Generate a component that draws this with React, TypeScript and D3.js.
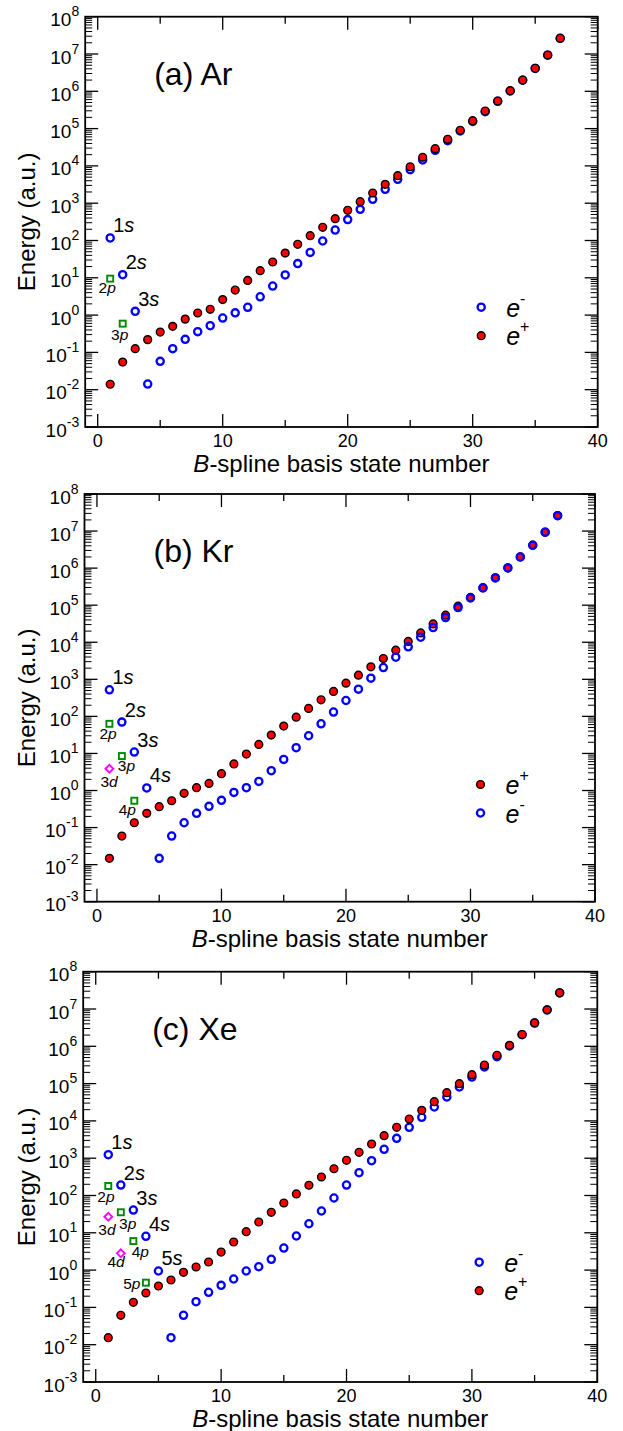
import React from "react";
import * as d3 from "d3";

// B-spline basis state numbers 1..37
const stateNumber = d3.range(1, 38);

// (a) Ar
const arElectron = [
  117, 12.1, 1.26, 0.0142, 0.0575, 0.126, 0.224, 0.36, 0.52, 0.835, 1.15, 1.62, 3.1, 6.0, 11.9, 24, 48, 97, 191,
  363, 685, 1270, 2350, 4370, 7940, 14400, 26200, 47400, 86300, 155000, 285000, 540000, 1.02e6, 1.98e6, 4.1e6,
  9.3e6, 2.63e7,
];
const arPositron = [
  0.014, 0.055, 0.126, 0.22, 0.35, 0.5, 0.78, 1.14, 1.43, 2.6, 4.7, 8.5, 15.5, 26.5, 46, 79, 135, 226, 385, 645,
  1100, 1875, 3200, 5460, 9500, 17000, 28900, 51600, 90000, 163000, 296000, 550000, 1.04e6, 2.0e6, 4.14e6, 9.4e6,
  2.64e7,
];
const arSNames = ["1s", "2s", "3s"];
const arPStates = [
  { n: 1, energy: 9.5, name: "2p" },
  { n: 2, energy: 0.59, name: "3p" },
];
const arDStates: { n: number; energy: number; name: string }[] = [];

// (b) Kr
const krElectron = [
  521, 70, 10.9, 1.17, 0.0148, 0.059, 0.135, 0.242, 0.374, 0.542, 0.89, 1.19, 1.76, 3.42, 6.9, 14.3, 30, 63, 131,
  268, 543, 1075, 2080, 3950, 7520, 13700, 24900, 46400, 86300, 157000, 292000, 545000, 1.01e6, 2.0e6, 4.14e6,
  9.3e6, 2.6e7,
];
const krPositron = [
  0.0148, 0.059, 0.135, 0.242, 0.366, 0.53, 0.84, 1.19, 1.55, 2.84, 5.2, 9.6, 17.5, 31.3, 54.7, 95, 164, 280, 470,
  789, 1295, 2170, 3650, 6110, 10500, 17900, 31300, 53700, 93800, 162000, 296000, 550000, 1.02e6, 2.0e6, 4.15e6,
  9.35e6, 2.62e7,
];
const krSNames = ["1s", "2s", "3s", "4s"];
const krPStates = [
  { n: 1, energy: 63, name: "2p" },
  { n: 2, energy: 8.5, name: "3p" },
  { n: 3, energy: 0.53, name: "4p" },
];
const krDStates = [{ n: 1, energy: 3.87, name: "3d" }];

// (c) Xe
const xeElectron = [
  1240, 191, 40.8, 8.05, 0.946, 0.0154, 0.0614, 0.142, 0.254, 0.39, 0.577, 0.946, 1.23, 1.95, 3.9, 8.2, 17.5, 38.4,
  85.7, 191, 408, 857, 1730, 3410, 6730, 12500, 23600, 43700, 81100, 150000, 279000, 526000, 1.02e6, 2.05e6,
  4.2e6, 9.4e6, 2.7e7,
];
const xePositron = [
  0.0154, 0.0614, 0.137, 0.243, 0.375, 0.543, 0.873, 1.21, 1.65, 3.05, 5.66, 10.7, 19.5, 35.5, 63, 110, 188, 313,
  522, 879, 1440, 2400, 4010, 6730, 11200, 19200, 32700, 57000, 99300, 173000, 315000, 574000, 1.06e6, 2.07e6,
  4.25e6, 9.5e6, 2.72e7,
];
const xeSNames = ["1s", "2s", "3s", "4s", "5s"];
const xePStates = [
  { n: 1, energy: 180, name: "2p" },
  { n: 2, energy: 35.5, name: "3p" },
  { n: 3, energy: 6.0, name: "4p" },
  { n: 4, energy: 0.46, name: "5p" },
];
const xeDStates = [
  { n: 1, energy: 27, name: "3d" },
  { n: 2, energy: 2.82, name: "4d" },
];

const xMajorTicks = [0, 10, 20, 30, 40];
const xMinorTicks = [5, 15, 25, 35];
const yExponents = d3.range(-3, 9);

const FONT = "'Liberation Sans', Arial, Helvetica, sans-serif";
const BLUE = "#0000ff";
const RED = "#ff0000";
const GREEN = "#008800";
const MAGENTA = "#ff00ff";

type State = { n: number; energy: number; name: string };

type PanelProps = {
  top: number;
  bottom: number;
  left: number;
  right: number;
  title: string;
  electron: number[];
  positron: number[];
  sNames: string[];
  pStates: State[];
  dStates: State[];
  electronOnTop: boolean;
  positronFirstInLegend: boolean;
  nudges: Record<string, [number, number]>;
};

const Panel = (p: PanelProps) => {
  const x = d3.scaleLinear().domain([-1, 40]).range([p.left, p.right]);
  const y = d3.scaleLog().domain([1e-3, 1e8]).range([p.bottom, p.top]);

  const minorY: number[] = [];
  for (let k = -3; k < 8; k++) for (let m = 2; m <= 9; m++) minorY.push(m * Math.pow(10, k));

  const majLen = 13;
  const minLen = 7;

  const electronMarks = p.electron.map((v, i) => (
    <circle key={"e" + i} cx={x(stateNumber[i])} cy={y(v)} r={3.6} fill="none" stroke={BLUE} strokeWidth={2.3} />
  ));
  const positronMarks = p.positron.map((v, i) => (
    <circle key={"p" + i} cx={x(stateNumber[i])} cy={y(v)} r={3.9} fill={RED} stroke="#000" strokeWidth={1.4} />
  ));

  const legendRows = p.positronFirstInLegend ? ["+", "-"] : ["-", "+"];
  const lx = p.left + 396;

  return (
    <g fontFamily={FONT}>
      {/* ticks */}
      <g stroke="#000" strokeWidth={1.3}>
        {xMajorTicks.map((t) => (
          <g key={"xM" + t}>
            <line x1={x(t)} x2={x(t)} y1={p.bottom} y2={p.bottom - majLen} />
            <line x1={x(t)} x2={x(t)} y1={p.top} y2={p.top + majLen} />
          </g>
        ))}
        {xMinorTicks.map((t) => (
          <g key={"xm" + t}>
            <line x1={x(t)} x2={x(t)} y1={p.bottom} y2={p.bottom - minLen} />
            <line x1={x(t)} x2={x(t)} y1={p.top} y2={p.top + minLen} />
          </g>
        ))}
        {yExponents.map((k) => (
          <g key={"yM" + k}>
            <line x1={p.left} x2={p.left + majLen} y1={y(Math.pow(10, k))} y2={y(Math.pow(10, k))} />
            <line x1={p.right} x2={p.right - majLen} y1={y(Math.pow(10, k))} y2={y(Math.pow(10, k))} />
          </g>
        ))}
        {minorY.map((v, i) => (
          <g key={"ym" + i} strokeWidth={1}>
            <line x1={p.left} x2={p.left + minLen} y1={y(v)} y2={y(v)} />
            <line x1={p.right} x2={p.right - minLen} y1={y(v)} y2={y(v)} />
          </g>
        ))}
      </g>
      <rect
        x={p.left}
        y={p.top}
        width={p.right - p.left}
        height={p.bottom - p.top}
        fill="none"
        stroke="#000"
        strokeWidth={1.8}
      />

      {/* tick labels */}
      {xMajorTicks.map((t) => (
        <text key={"xl" + t} x={x(t)} y={p.bottom + 20} textAnchor="middle" fontSize={18}>
          {t}
        </text>
      ))}
      {yExponents.map((k) => (
        <text key={"yl" + k} x={p.left - 6} y={y(Math.pow(10, k)) + 9.5} textAnchor="end" fontSize={19}>
          10
          <tspan dy={-10} fontSize={14}>
            {String(k)}
          </tspan>
        </text>
      ))}

      {/* axis titles */}
      <text x={(p.left + p.right) / 2} y={p.bottom + 45} textAnchor="middle" fontSize={24}>
        <tspan fontStyle="italic">B</tspan>-spline basis state number
      </text>
      <text
        transform={`translate(35,${(p.top + p.bottom) / 2}) rotate(-90)`}
        textAnchor="middle"
        fontSize={24}
      >
        Energy (a.u.)
      </text>

      <text x={p.left + 69} y={p.top + 68} fontSize={32}>
        {p.title}
      </text>

      {/* data */}
      {p.electronOnTop ? positronMarks : electronMarks}
      {p.electronOnTop ? electronMarks : positronMarks}

      {p.pStates.map((s) => (
        <rect
          key={"ps" + s.name}
          x={x(s.n) - 3}
          y={y(s.energy) - 3}
          width={6}
          height={6}
          fill="none"
          stroke={GREEN}
          strokeWidth={1.9}
        />
      ))}
      {p.dStates.map((s) => {
        const cx = x(s.n);
        const cy = y(s.energy);
        const r = 3.9;
        return (
          <path
            key={"ds" + s.name}
            d={`M${cx},${cy - r}L${cx + r},${cy}L${cx},${cy + r}L${cx - r},${cy}Z`}
            fill="none"
            stroke={MAGENTA}
            strokeWidth={1.9}
          />
        );
      })}

      {/* state labels */}
      {p.sNames.map((name, i) => {
        const [dx, dy] = p.nudges[name] || [3, -5.5];
        return (
          <text key={"sl" + name} x={x(stateNumber[i]) + dx} y={y(p.electron[i]) + dy} fontSize={20}>
            {name[0]}
            <tspan fontStyle="italic">{name.slice(1)}</tspan>
          </text>
        );
      })}
      {[...p.pStates, ...p.dStates].map((s) => {
        const [dx, dy] = p.nudges[s.name] || [-11, 15.5];
        return (
          <text key={"pl" + s.name} x={x(s.n) + dx} y={y(s.energy) + dy} fontSize={15.5}>
            {s.name[0]}
            <tspan fontStyle="italic">{s.name.slice(1)}</tspan>
          </text>
        );
      })}

      {/* legend */}
      {legendRows.map((sign, i) => {
        const ly = p.top + 290.5 + i * 28.5;
        return (
          <g key={"lg" + sign}>
            {sign === "-" ? (
              <circle cx={lx} cy={ly} r={3.6} fill="none" stroke={BLUE} strokeWidth={2.3} />
            ) : (
              <circle cx={lx} cy={ly} r={3.9} fill={RED} stroke="#000" strokeWidth={1.4} />
            )}
            <text x={lx + 25} y={ly + 9.5} fontSize={25}>
              <tspan fontStyle="italic">e</tspan>
              <tspan dy={-13} fontSize={16}>
                {sign}
              </tspan>
            </text>
          </g>
        );
      })}
    </g>
  );
};

const App = () => {
  return (
    <svg
      width={623}
      height={1431}
      viewBox="0 0 623 1431"
      style={{ position: "absolute", left: 0, top: 0, background: "#fff" }}
    >
      <Panel
        top={16.7}
        bottom={427}
        left={85.2}
        right={597.7}
        title="(a) Ar"
        electron={arElectron}
        positron={arPositron}
        sNames={arSNames}
        pStates={arPStates}
        dStates={arDStates}
        electronOnTop={false}
        positronFirstInLegend={false}
        nudges={{ "2p": [-11.7, 14.3], "3p": [-11.6, 16] }}
      />
      <Panel
        top={494}
        bottom={901.7}
        left={84.5}
        right={595}
        title="(b) Kr"
        electron={krElectron}
        positron={krPositron}
        sNames={krSNames}
        pStates={krPStates}
        dStates={krDStates}
        electronOnTop={true}
        positronFirstInLegend={true}
        nudges={{ "2p": [-10, 15.3], "3p": [-4, 15.4], "4p": [-15.6, 14.7], "3d": [-9, 18.3] }}
      />
      <Panel
        top={971.7}
        bottom={1382}
        left={83.2}
        right={597.3}
        title="(c) Xe"
        electron={xeElectron}
        positron={xePositron}
        sNames={xeSNames}
        pStates={xePStates}
        dStates={xeDStates}
        electronOnTop={false}
        positronFirstInLegend={false}
        nudges={{
          "2p": [-11, 15.7],
          "3p": [-1.7, 16.6],
          "4p": [-1.7, 16],
          "5p": [-22.7, 6.7],
          "3d": [-10, 18.7],
          "4d": [-13.4, 13.7],
        }}
      />
    </svg>
  );
};

export default App;
